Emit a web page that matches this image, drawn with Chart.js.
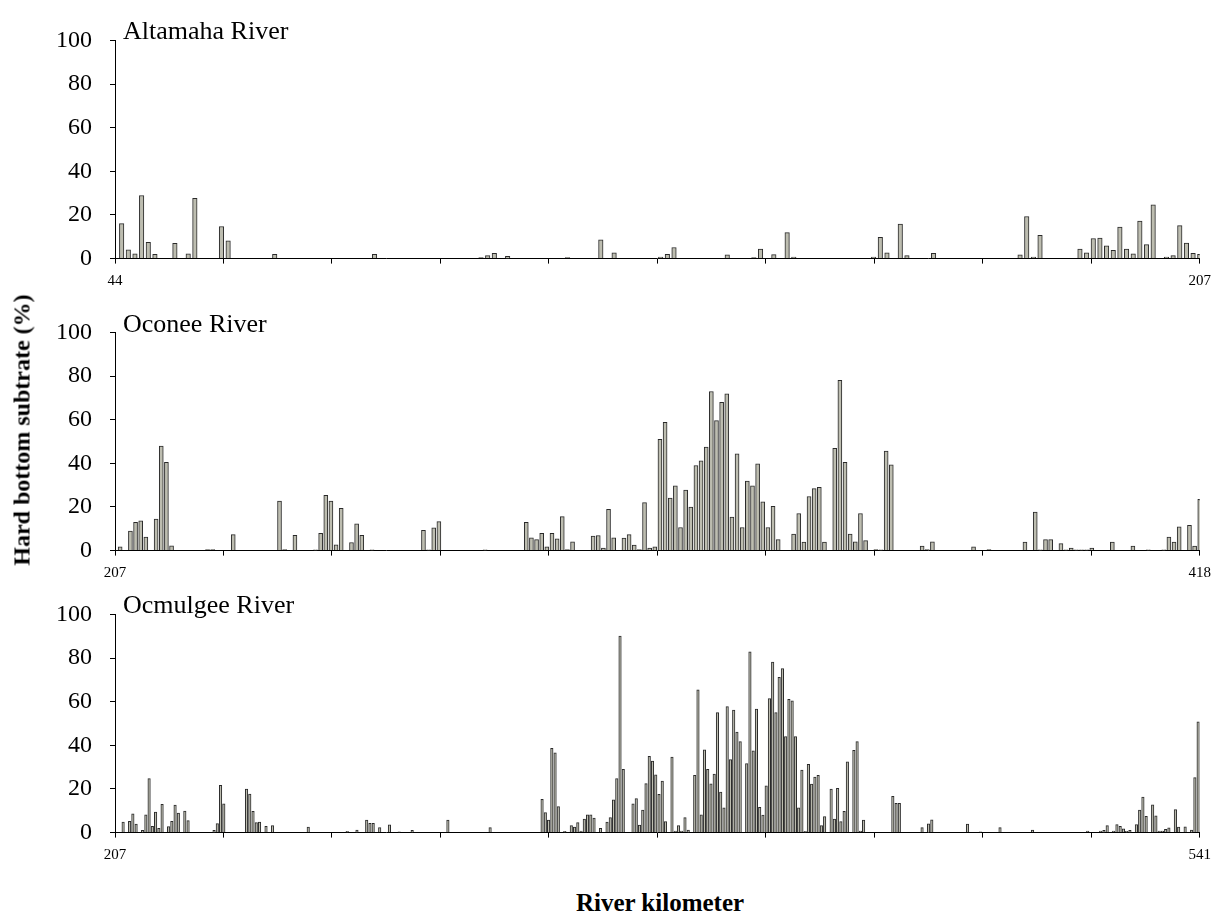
<!DOCTYPE html>
<html>
<head>
<meta charset="utf-8">
<script src="https://cdn.jsdelivr.net/npm/chart.js@4.4.1/dist/chart.umd.min.js"></script>
<style>
  html, body { margin: 0; padding: 0; background: #fff; }
  body { width: 1219px; height: 916px; position: relative; overflow: hidden;
         font-family: 'Liberation Serif', 'Times New Roman', serif; color: #000; }
  canvas { position: absolute; left: 0; }
  .river { position: absolute; left: 123px; font-size: 26px; line-height: 30px; white-space: nowrap; }
  #ytitle { position: absolute; left: 22px; top: 430px; transform: translate(-50%, -50%) rotate(-90deg);
            font-weight: bold; font-size: 24px; white-space: nowrap; }
  #xtitle { position: absolute; left: 660px; top: 903px; transform: translate(-50%, -50%);
            font-weight: bold; font-size: 25px; white-space: nowrap; }
</style>
</head>
<body>
<canvas id="altamaha" width="1219" height="283" style="top:8px"></canvas>
<canvas id="oconee" width="1219" height="283" style="top:300px"></canvas>
<canvas id="ocmulgee" width="1219" height="283" style="top:582px"></canvas>
<div class="river" style="top:16px">Altamaha River</div>
<div class="river" style="top:309px">Oconee River</div>
<div class="river" style="top:590px">Ocmulgee River</div>
<div id="ytitle">Hard bottom subtrate (%)</div>
<div id="xtitle">River kilometer</div>
<script>
// ── dados ───────────────────────────────────────────────────────────────
const altamahaRange = [44, 207];
const altamahaKm = [45,46,47,48,49,50,53,55,56,60,61,68,83,99,100,101,103,112,117,119,126,127,128,136,140,141,143,145,146,158,159,160,162,163,167,180,181,182,183,189,190,191,192,193,194,195,196,197,198,199,200,202,203,204,205,206,207];
const altamahaPct = [16,4,2.2,28.9,7.4,2,7,2.2,27.6,14.7,8.2,2,2,0.5,1.4,2.4,1,0.5,8.6,2.6,0.7,2,5.1,1.7,0.5,4.4,1.8,11.9,0.7,0.7,9.7,2.6,15.8,1.4,2.4,1.7,19.3,0.7,10.7,4.4,2.6,9.2,9.4,5.8,3.8,14.4,4.4,2.2,17.2,6.4,24.6,0.7,1.4,15.1,7.1,2.4,2];

const oconeeRange = [207, 418];
const oconeeKm = [208,210,211,212,213,215,216,217,218,225,226,230,239,240,242,246,247,248,249,250,251,253,254,255,257,267,268,269,270,279,287,288,289,290,291,292,293,294,295,296,300,301,302,303,304,306,307,308,309,310,311,312,313,314,315,316,317,318,319,320,321,322,323,324,325,326,327,328,329,330,331,332,333,334,335,336,339,340,341,342,343,344,345,347,348,349,350,351,352,353,355,356,357,358,364,365,366,374,377,384,386,387,388,389,391,392,393,394,395,396,397,401,405,408,411,412,413,414,416,417,418];
const oconeePct = [1.7,9,13,13.7,6.2,14.5,47.9,40.5,2.2,0.5,0.5,7.3,22.7,0.5,7,0.3,7.9,25.3,22.7,2.6,19.4,3.7,12.3,7,0.3,9.3,0.3,10.4,13.3,0.3,12.9,5.9,5,7.9,1.7,7.9,5.4,15.6,0.5,4,6.6,6.9,1.2,18.9,5.9,5.7,7.3,2.5,0.5,22,1.2,1.7,51,58.8,24.1,29.7,10.6,27.7,19.9,39,41.1,47.4,72.9,59.6,67.9,71.8,15.4,44.4,10.6,31.9,29.7,39.8,22.4,10.6,20.3,5,7.6,17,3.9,24.8,28.4,29,3.9,46.9,78,40.5,7.6,4,17,4.6,0.5,0.3,45.6,39.3,2.1,0.5,4,1.7,0.5,3.9,17.7,0.3,5,5,3.2,0.3,1.2,0.3,0.3,0.3,1.2,3.9,2.1,0.3,0.3,6.2,3.9,10.9,11.6,2.1,23.5];

const ocmulgeeRange = [207, 541];
const ocmulgeeKm = [209.5,211.5,212.5,213.5,215.5,216.5,217.5,218.5,219.5,220.5,221.5,223.5,224.5,225.5,226.5,228.5,229.5,237.5,238.5,239.5,240.5,247.5,248.5,249.5,250.5,251.5,253.5,255.5,266.5,278.5,281.5,284.5,285.5,286.5,288.5,291.5,294.5,298.5,309.5,322.5,338.5,339.5,340.5,341.5,342.5,343.5,345.5,347.5,348.5,349.5,350.5,351.5,352.5,353.5,354.5,356.5,358.5,359.5,360.5,361.5,362.5,363.5,366.5,367.5,368.5,369.5,370.5,371.5,372.5,373.5,374.5,375.5,376.5,378.5,379.5,380.5,381.5,382.5,383.5,385.5,386.5,387.5,388.5,389.5,390.5,391.5,392.5,393.5,394.5,395.5,396.5,397.5,398.5,399.5,401.5,402.5,403.5,404.5,405.5,406.5,407.5,408.5,409.5,410.5,411.5,412.5,413.5,414.5,415.5,416.5,417.5,418.5,419.5,420.5,421.5,422.5,423.5,424.5,425.5,427.5,428.5,429.5,430.5,431.5,432.5,434.5,435.5,436.5,437.5,446.5,447.5,448.5,455.5,457.5,458.5,469.5,473.5,479.5,489.5,506.5,510.5,511.5,512.5,514.5,515.5,516.5,517.5,518.5,519.5,521.5,522.5,523.5,524.5,526.5,527.5,528.5,529.5,530.5,531.5,533.5,534.5,536.5,538.5,539.5,540.5];
const ocmulgeePct = [4.8,5.2,8.6,3.9,1,8.1,24.8,2.9,9.4,1.9,13,2.8,5.2,12.6,9,9.9,5.5,1,4.1,21.7,13.2,19.9,17.7,9.7,4.6,4.8,2.9,3.2,2.5,0.6,1.1,5.7,4.3,4.3,2.3,3.6,0.3,1,5.7,2.3,15.2,9.2,5.7,38.6,36.6,11.9,0.6,3.2,2.5,4.6,0.7,6.2,8.1,8.1,6.6,1.9,4.8,6.9,15,24.7,90.1,29,13.2,15.6,3.4,10.3,22.5,34.9,32.8,26.5,17.5,23.6,5,34.6,0.7,3.2,0.7,6.9,1.1,26.3,65.4,8.1,37.9,29,22.3,26.8,55,18.6,11.3,57.8,33.5,56.1,46.1,41.7,31.6,82.8,37.5,56.6,11.6,8,21.4,61.4,78.1,55,71.2,75.2,44,61.1,60.4,44,11.3,28.7,0.6,31.3,22.2,25.5,26.2,3.2,7.3,20,6.2,20.3,5.1,9.7,32.4,37.7,41.7,0.7,5.7,16.6,13.4,13.4,2.3,4,5.9,3.9,0.3,2.3,1.2,0.7,0.7,1,3.2,0.7,3.7,2.9,1.7,0.6,1,3.7,10.3,16.3,7.4,12.7,7.7,0.7,0.7,1.5,2.2,10.6,2.5,2.6,1.1,25.2,50.8];

// ── estilo ──────────────────────────────────────────────────────────────
const FONT = "'Liberation Serif', 'Times New Roman', serif";
const BAR_FILL = '#bdbdb0';
const BAR_EDGE = '#2a2a2a';

function makePanel(id, km, pct, range, yStep, barW) {
  if (km.length !== pct.length) throw new Error(id + ': ' + km.length + ' km vs ' + pct.length + ' valores');
  const [xMin, xMax] = range;
  const pts = km.map((k, i) => ({ x: k, y: pct[i] }));
  return new Chart(document.getElementById(id), {
    type: 'bar',
    data: {
      datasets: [{
        data: pts,
        backgroundColor: BAR_FILL,
        borderColor: BAR_EDGE,
        borderWidth: 1,
        borderSkipped: 'bottom',
        barThickness: barW
      }]
    },
    options: {
      responsive: false,
      animation: false,
      layout: { padding: { top: 12, right: 17, left: 0, bottom: 0 } },
      plugins: { legend: { display: false }, tooltip: { enabled: false } },
      scales: {
        x: {
          type: 'linear', min: xMin, max: xMax, offset: false,
          afterBuildTicks: s => {
            s.ticks = Array.from({ length: 11 }, (_, i) => ({ value: xMin + (xMax - xMin) * i / 10 }));
          },
          afterFit: s => { s.height = 30; },
          grid: { offset: false, drawOnChartArea: false, drawTicks: true, tickLength: 5, color: '#000' },
          border: { color: '#000', width: 1 },
          ticks: {
            autoSkip: false, maxRotation: 0, padding: 8, color: '#000',
            font: { family: FONT, size: 15 },
            callback: (v, i, arr) => (i === 0 || i === arr.length - 1) ? String(Math.round(v)) : ''
          }
        },
        y: {
          min: 0, max: 100,
          afterFit: s => { s.width = 115; },
          grid: { drawOnChartArea: false, drawTicks: true, tickLength: 5, color: '#000' },
          border: { color: '#000', width: 1 },
          ticks: {
            stepSize: yStep, padding: 18, color: '#000',
            font: { family: FONT, size: 24 },
            callback: v => v % 20 === 0 ? String(v) : ''
          }
        }
      }
    }
  });
}

makePanel('altamaha', altamahaKm, altamahaPct, altamahaRange, 10, 4.5);
makePanel('oconee', oconeeKm, oconeePct, oconeeRange, 20, 4);
makePanel('ocmulgee', ocmulgeeKm, ocmulgeePct, ocmulgeeRange, 20, 2.5);
</script>
</body>
</html>
